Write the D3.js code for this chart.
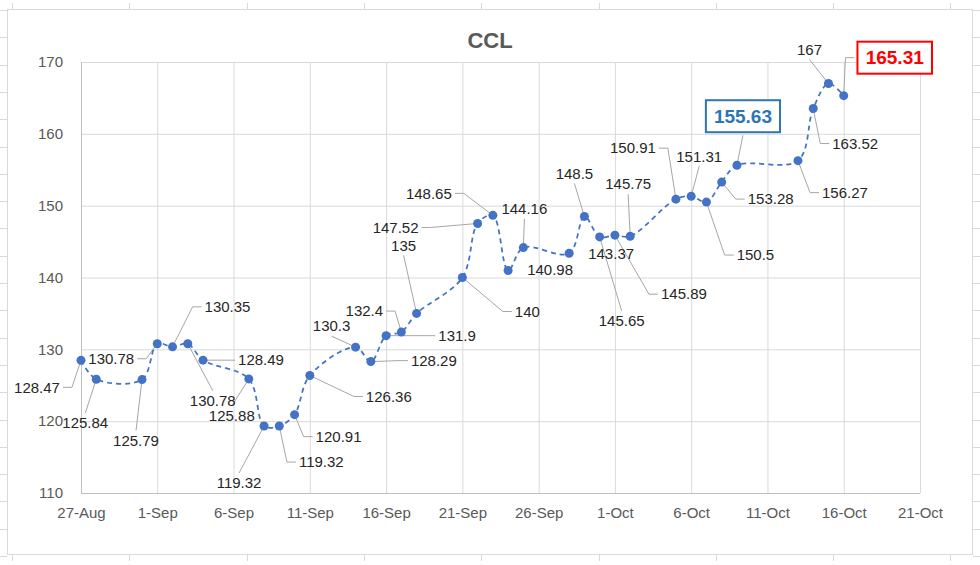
<!DOCTYPE html>
<html>
<head>
<meta charset="utf-8">
<script src="https://cdn.jsdelivr.net/npm/d3@7"></script>
<style>
  body { margin: 0; background: #fff; }
  svg { display: block; font-family: "Liberation Sans", Arial, sans-serif; }
</style>
</head>
<body>
<svg width="980" height="565"></svg>
<script>
//Chart data
var dates = ["2020-08-27", "2020-08-28", "2020-08-31", "2020-09-01", "2020-09-02", "2020-09-03",
             "2020-09-04", "2020-09-07", "2020-09-08", "2020-09-09", "2020-09-10", "2020-09-11",
             "2020-09-14", "2020-09-15", "2020-09-16", "2020-09-17", "2020-09-18", "2020-09-21",
             "2020-09-22", "2020-09-23", "2020-09-24", "2020-09-25", "2020-09-28", "2020-09-29",
             "2020-09-30", "2020-10-01", "2020-10-02", "2020-10-05", "2020-10-06", "2020-10-07",
             "2020-10-08", "2020-10-09", "2020-10-13", "2020-10-14", "2020-10-15", "2020-10-16"];
var ccl = [128.47, 125.84, 125.79, 130.78, 130.35, 130.78,
           128.49, 125.88, 119.32, 119.32, 120.91, 126.36,
           130.3, 128.29, 131.9, 132.4, 135, 140,
           147.52, 148.65, 140.98, 144.16, 143.37, 148.5,
           145.65, 145.89, 145.75, 150.91, 151.31, 150.5,
           153.28, 155.63, 156.27, 163.52, 167, 165.31];
var yTicks = [110, 120, 130, 140, 150, 160, 170];
var xTicks = ["2020-08-27", "2020-09-01", "2020-09-06", "2020-09-11", "2020-09-16", "2020-09-21",
              "2020-09-26", "2020-10-01", "2020-10-06", "2020-10-11", "2020-10-16", "2020-10-21"];
var chartTitle = "CCL";

//Boxed labels (date -> colour)
var highlights = {"2020-10-09": "#2e75b6", "2020-10-16": "#ff0000"};

//Label placement: offset of label centre from the point, side where the leader attaches
var labelPos = [[-44, 27, "r"], [-11, 44, "t"], [-6, 61, "t"], [-46, 15, "r"], [55, -40, "l"], [25, 57, "t"],
                [58, 0, "l"], [-17, 37, "t"], [-25, 57, "t"], [42, 36, "l"], [44, 22, "l"], [79, 21, "l"],
                [-24, -21, "b"], [63, -1, "l"], [71, 0, "l"], [-37, -21, "r"], [-13, -68, "b"], [65, 34, "l"],
                [-82, 4, "r"], [-64, -22, "r"], [42, -1, ""], [1, -39, "b"], [42, 0, ""], [-10, -43, "b"],
                [22, 84, "t"], [69, 59, "l"], [-2, -52, "b"], [-43, -51, "r"], [8, -40, "b"], [49, 53, "l"],
                [49, 17, "l"], [6, -49, "b"], [47, 32, "l"], [42, 35, "l"], [-19, -34, "b"], [51, -38, "l"]];

var parseDate = d3.timeParse("%Y-%m-%d");
var data = dates.map(function(d, i) {
  return {date: parseDate(d), key: d, value: ccl[i], lab: labelPos[i]};
});

var svg = d3.select("svg"),
    W = 980, H = 565;

//Spreadsheet cells peeking around the chart object
var sheet = svg.append("g").attr("stroke", "#d9d9d9").attr("stroke-width", 1);
d3.range(10, 560, 27.3).forEach(function(y) {
  sheet.append("line").attr("x1", 0).attr("x2", 7).attr("y1", Math.round(y) + 0.5).attr("y2", Math.round(y) + 0.5);
  sheet.append("line").attr("x1", 973).attr("x2", W).attr("y1", Math.round(y) + 0.5).attr("y2", Math.round(y) + 0.5);
});
d3.range(12, W, 117.3).forEach(function(x) {
  sheet.append("line").attr("x1", Math.round(x) + 0.5).attr("x2", Math.round(x) + 0.5).attr("y1", 3).attr("y2", 9);
  sheet.append("line").attr("x1", Math.round(x) + 0.5).attr("x2", Math.round(x) + 0.5).attr("y1", 555).attr("y2", 561);
});

//Chart border
svg.append("rect")
  .attr("x", 7.5).attr("y", 9.5)
  .attr("width", 965).attr("height", 545)
  .attr("fill", "#fff")
  .attr("stroke", "#d9d9d9");

//Scales
var x = d3.scaleTime()
    .domain([parseDate(xTicks[0]), parseDate(xTicks[xTicks.length - 1])])
    .range([81, 920]);
var y = d3.scaleLinear().domain([110, 170]).range([493, 62]);

//Title
svg.append("text")
  .attr("x", 490).attr("y", 48)
  .attr("text-anchor", "middle")
  .attr("font-size", 22).attr("font-weight", "bold")
  .attr("fill", "#595959")
  .text(chartTitle);

//Grid lines using axes
var gridY = svg.append("g")
  .attr("transform", "translate(81,0)")
  .call(d3.axisLeft(y).tickValues(yTicks).tickSize(-839).tickFormat(""));
var gridX = svg.append("g")
  .attr("transform", "translate(0,493)")
  .call(d3.axisBottom(x).tickValues(xTicks.map(parseDate)).tickSize(-431).tickFormat(""));
[gridY, gridX].forEach(function(g) {
  g.select(".domain").remove();
  g.selectAll("line").attr("stroke", "#d9d9d9");
});

//Axis labels
var yAxis = svg.append("g")
  .attr("transform", "translate(81,0)")
  .call(d3.axisLeft(y).tickValues(yTicks).tickSize(0).tickPadding(18));
var xAxis = svg.append("g")
  .attr("transform", "translate(0,493)")
  .call(d3.axisBottom(x).tickValues(xTicks.map(parseDate)).tickSize(0).tickPadding(14)
        .tickFormat(d3.timeFormat("%-d-%b")));
[yAxis, xAxis].forEach(function(g) {
  g.select(".domain").remove();
  g.selectAll("text")
    .attr("font-family", "Liberation Sans, Arial, sans-serif")
    .attr("font-size", 15)
    .attr("fill", "#595959");
});
//Axis line at left and bottom
svg.append("line").attr("x1", 81.5).attr("x2", 81.5).attr("y1", 62).attr("y2", 493).attr("stroke", "#bfbfbf");
svg.append("line").attr("x1", 81).attr("x2", 920).attr("y1", 493.5).attr("y2", 493.5).attr("stroke", "#bfbfbf");

var leaders = svg.append("g"),
    lineG = svg.append("g"),
    labels = svg.append("g");

//Data labels first, so their size is known for the leader lines
data.forEach(function(d) {
  var px = x(d.date), py = y(d.value),
      cx = px + d.lab[0], cy = py + d.lab[1],
      hl = highlights[d.key];

  var t = labels.append("text")
    .attr("x", cx).attr("y", cy)
    .attr("dy", "0.35em")
    .attr("text-anchor", "middle")
    .attr("font-size", hl ? 19 : 15)
    .attr("font-weight", hl ? "bold" : "normal")
    .attr("fill", hl || "#262626")
    .text(d.value);

  var bb = t.node().getBBox(),
      hw = bb.width / 2, hh = 7;

  if (hl) {
    hw += 8; hh = 16;
    labels.insert("rect", "text")
      .attr("x", cx - hw).attr("y", cy - hh)
      .attr("width", hw * 2).attr("height", hh * 2)
      .attr("fill", "#fff")
      .attr("stroke", hl).attr("stroke-width", 2);
  }

  //Leader line from the label edge to the point
  var side = d.lab[2], pts = null;
  if (side == "l") pts = [[cx - hw - 3, cy], [cx - hw - 12, cy], [px, py]];
  if (side == "r") pts = [[cx + hw + 3, cy], [cx + hw + 12, cy], [px, py]];
  if (side == "t") pts = [[cx, cy - hh - 3], [px, py]];
  if (side == "b") pts = [[cx, cy + hh + 3], [px, py]];
  if (pts) {
    leaders.append("path")
      .attr("d", d3.line()(pts))
      .attr("fill", "none")
      .attr("stroke", "#a6a6a6")
      .attr("stroke-width", 1);
  }
});

//Smoothed dashed line
var line = d3.line()
  .curve(d3.curveCatmullRom.alpha(0.5))
  .x(function(d) { return x(d.date); })
  .y(function(d) { return y(d.value); });

lineG.append("path")
  .datum(data)
  .attr("d", line)
  .attr("fill", "none")
  .attr("stroke", "#4472c4")
  .attr("stroke-width", 1.75)
  .attr("stroke-dasharray", "5,4");

//Markers
lineG.selectAll("circle")
  .data(data)
  .enter()
  .append("circle")
  .attr("cx", function(d) { return x(d.date); })
  .attr("cy", function(d) { return y(d.value); })
  .attr("r", 4.5)
  .attr("fill", "#4472c4");
</script>
</body>
</html>
